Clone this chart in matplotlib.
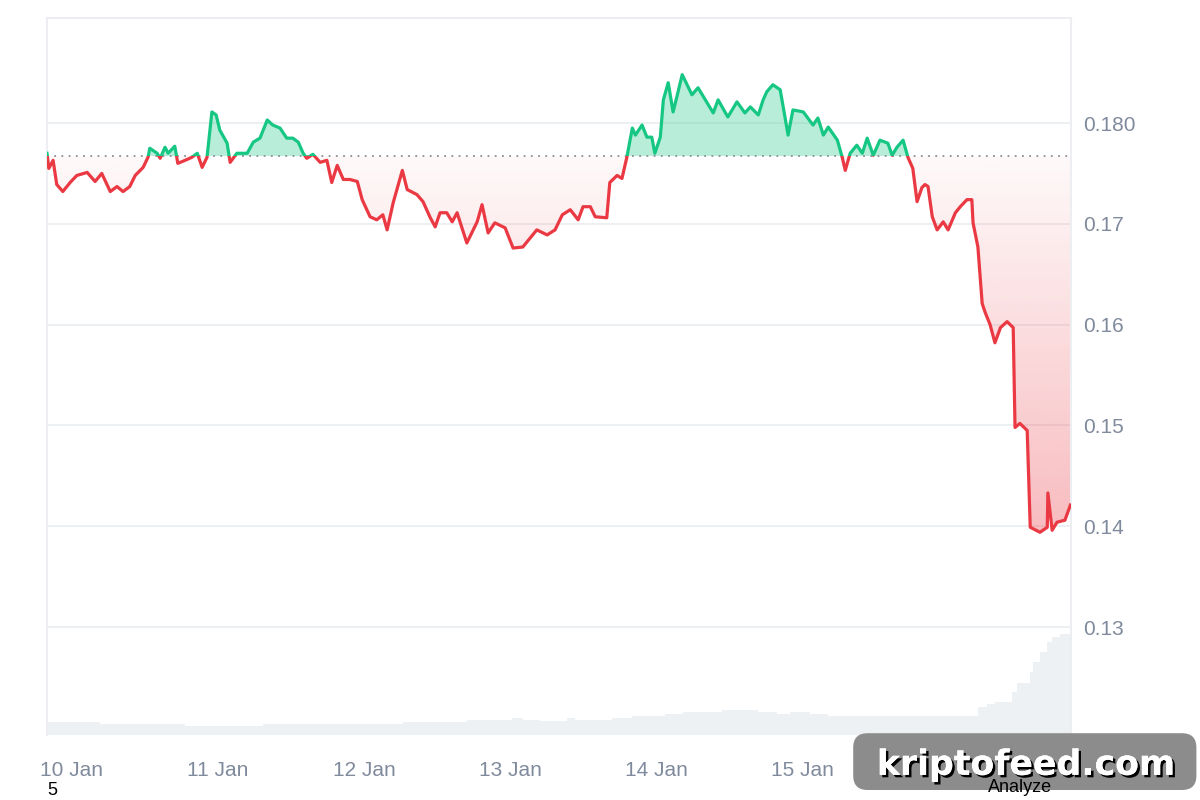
import numpy as np
import matplotlib
matplotlib.use('Agg')
import matplotlib.pyplot as plt
from matplotlib.patches import Rectangle, FancyBboxPatch
from matplotlib.path import Path
from matplotlib.colors import to_rgb
import matplotlib.patheffects as pe

# price, hours since 10 Jan 00:00
hours = [-4.1, -3.8, -3.1, -2.5, -1.5, -0.3, 0.8, 2.5, 3.8, 4.9,
         6.3, 7.4, 8.4, 9.5, 10.4, 11.7, 12.5, 12.8, 14.0, 14.5,
         15.3, 15.8, 16.9, 17.4, 18.6, 19.7, 20.6, 21.4, 22.2, 23.0,
         23.7, 24.3, 25.5, 26.0, 27.1, 28.8, 29.8, 30.9, 32.1, 33.0,
         34.2, 35.3, 36.3, 37.2, 38.0, 38.6, 39.6, 40.8, 41.9, 42.7,
         43.6, 44.6, 45.7, 46.9, 47.7, 49.0, 50.1, 51.1, 51.8, 52.8,
         54.3, 55.1, 56.7, 57.7, 58.9, 59.7, 60.5, 61.6, 62.5, 63.3,
         64.9, 66.6, 67.4, 68.4, 69.5, 71.2, 72.5, 74.1, 76.4, 78.1,
         79.4, 80.6, 81.9, 83.2, 84.0, 85.2, 86.0, 87.9, 88.4, 89.6,
         90.4, 91.2, 92.1, 92.6, 93.7, 94.5, 95.3, 95.8, 96.7, 97.2,
         98.0, 98.8, 99.5, 100.3, 101.9, 102.9, 104.4, 105.4, 106.2, 107.8,
         109.3, 110.6, 111.5, 112.8, 113.6, 114.2, 115.2, 116.4, 116.9, 117.7,
         118.5, 120.2, 121.8, 122.6, 123.5, 124.3, 125.8, 126.6, 127.1, 127.9,
         129.0, 129.9, 130.7, 131.7, 132.8, 134.1, 134.8, 135.6, 136.6, 137.4,
         138.2, 138.9, 139.7, 140.2, 140.7, 141.4, 142.2, 143.2, 144.0, 145.2,
         146.0, 147.1, 147.9, 148.1, 148.9, 149.6, 150.1, 150.9, 151.7, 152.6,
         153.7, 154.7, 155.0, 155.8, 157.0, 157.5, 159.1, 160.3, 160.4, 161.1,
         161.9, 163.2, 164.1]
prices = [0.1770, 0.1755, 0.1763, 0.1739, 0.1732, 0.1741, 0.1748, 0.1751, 0.1742, 0.1750,
          0.1732, 0.1737, 0.1732, 0.1737, 0.1748, 0.1756, 0.1766, 0.1775, 0.1770, 0.1765,
          0.1776, 0.1770, 0.1777, 0.1760, 0.1763, 0.1766, 0.1770, 0.1756, 0.1766, 0.1811,
          0.1808, 0.1793, 0.1780, 0.1761, 0.1770, 0.1770, 0.1781, 0.1785, 0.1803, 0.1798,
          0.1795, 0.1785, 0.1785, 0.1781, 0.1770, 0.1765, 0.1769, 0.1761, 0.1763, 0.1741,
          0.1758, 0.1744, 0.1744, 0.1742, 0.1724, 0.1707, 0.1704, 0.1709, 0.1694, 0.1721,
          0.1753, 0.1734, 0.1729, 0.1722, 0.1706, 0.1697, 0.1711, 0.1711, 0.1702, 0.1711,
          0.1681, 0.1702, 0.1719, 0.1691, 0.1701, 0.1696, 0.1676, 0.1677, 0.1694, 0.1689,
          0.1694, 0.1709, 0.1714, 0.1704, 0.1717, 0.1717, 0.1707, 0.1706, 0.1741, 0.1748,
          0.1745, 0.1766, 0.1795, 0.1788, 0.1798, 0.1786, 0.1786, 0.1770, 0.1786, 0.1823,
          0.1840, 0.1811, 0.1828, 0.1848, 0.1828, 0.1835, 0.1820, 0.1810, 0.1823, 0.1806,
          0.1821, 0.1810, 0.1816, 0.1808, 0.1823, 0.1831, 0.1838, 0.1833, 0.1816, 0.1788,
          0.1813, 0.1811, 0.1798, 0.1805, 0.1788, 0.1796, 0.1783, 0.1766, 0.1753, 0.1770,
          0.1778, 0.1770, 0.1785, 0.1768, 0.1783, 0.1780, 0.1768, 0.1776, 0.1783, 0.1766,
          0.1755, 0.1722, 0.1736, 0.1739, 0.1737, 0.1707, 0.1694, 0.1702, 0.1694, 0.1711,
          0.1717, 0.1724, 0.1724, 0.1701, 0.1677, 0.1621, 0.1612, 0.1600, 0.1582, 0.1597,
          0.1603, 0.1597, 0.1498, 0.1502, 0.1495, 0.1399, 0.1394, 0.1399, 0.1433, 0.1396,
          0.1404, 0.1406, 0.1421]
base_price = 0.17673

# volume steps (arbitrary units)
vol_hours = [-4.1, 4.6, 18.6, 31.4, 54.4, 64.9, 72.3, 74.1, 76.9, 81.4, 82.7, 88.8,
             92.1, 97.5, 100.4, 106.8, 112.8, 115.9, 118.0, 121.3, 124.3, 148.9,
             150.4, 151.7, 154.5, 155.3, 157.5, 158.0, 159.1, 160.3, 161.1, 162.4]
volumes = [13, 11, 9.3, 11, 13, 15, 17, 15, 14, 17, 15, 17,
           19, 21, 23, 25, 23, 21, 23, 21, 19, 28,
           31, 33, 43, 52, 63, 73, 83, 93, 98, 101]

day_labels = ['10 Jan', '11 Jan', '12 Jan', '13 Jan', '14 Jan', '15 Jan']
y_ticks = [0.13, 0.14, 0.15, 0.16, 0.17, 0.18]
y_labels = ['0.13', '0.14', '0.15', '0.16', '0.17', '0.180']

GREEN = '#16c784'
RED = '#ea3943'
GREY = '#808a9d'
x0, x1 = -4.1, 164.2
y0, y1 = 0.11929, 0.19042

plt.rcParams['font.family'] = ['Liberation Sans', 'DejaVu Sans']

fig = plt.figure(figsize=(12, 8), dpi=100)
ax_v = fig.add_axes([0.03917, 0.08125, 0.85333, 0.89625])
ax = ax_v.twinx()
ax.set_zorder(ax_v.get_zorder() + 1)
ax.patch.set_visible(False)
ax.set_axisbelow(True)

# volume
vh = np.array(vol_hours + [x1])
vv = np.array(volumes + [volumes[-1]])
ax_v.fill_between(vh, vv, 0, step='post', color='#eef1f4', lw=0)
ax_v.set_ylim(0, 717)
ax_v.set_xlim(x0, x1)
ax_v.axis('off')

t = np.array(hours)
p = np.array(prices)

# green fill above baseline
ax.fill_between(t, p, base_price, where=p >= base_price, interpolate=True,
                color=GREEN, alpha=0.3, lw=0, zorder=1)

# red gradient fill below baseline
poly = ax.fill_between(t, p, base_price, where=p <= base_price, interpolate=True,
                       facecolor='none', edgecolor='none')
clip = Path.make_compound_path(*poly.get_paths())
n = 256
rgba = np.zeros((n, 1, 4))
rgba[:, 0, :3] = to_rgb(RED)
rgba[:, 0, 3] = np.linspace(0.34, 0.03, n)
im = ax.imshow(rgba, extent=[x0, x1, p.min(), base_price], origin='lower',
               aspect='auto', interpolation='bilinear', zorder=1)
im.set_clip_path(clip, ax.transData)

# price line, coloured by side of baseline
lg, = ax.plot(t, p, color=GREEN, lw=2.3, zorder=3, solid_joinstyle='round')
lr, = ax.plot(t, p, color=RED, lw=2.3, zorder=3, solid_joinstyle='round')
lg.set_clip_path(Rectangle((x0, base_price), x1 - x0, 1, transform=ax.transData))
lr.set_clip_path(Rectangle((x0, 0), x1 - x0, base_price, transform=ax.transData))

ax.axhline(base_price, color='#8a8f99', lw=1.3, ls=(0, (1, 3)), zorder=2)

ax.set_xlim(x0, x1)
ax.set_ylim(y0, y1)
ax.set_yticks(y_ticks)
ax.set_yticklabels(y_labels)
ax.xaxis.set_visible(True)
ax.set_xticks(np.arange(len(day_labels)) * 24)
ax.set_xticklabels(day_labels)
ax.grid(axis='y', color='#eceff2', lw=1.3)
ax.tick_params(axis='y', length=0, pad=9, labelsize=15, labelcolor=GREY,
               right=True, labelright=True, left=False, labelleft=False)
for s in ('left', 'top', 'right'):
    ax.spines[s].set_color('#eceef1')
    ax.spines[s].set_linewidth(1.5)
ax.spines['bottom'].set_visible(False)
ax.tick_params(axis='x', length=0, pad=19, labelsize=15, labelcolor=GREY,
               bottom=True, labelbottom=True)

# overlay bits at the bottom
fig.text(0.044, 0.001, '5', fontsize=13, color='black', ha='center', va='bottom')
box = FancyBboxPatch((0.711, 0.0125), 0.286, 0.071, boxstyle='round,pad=0,rounding_size=0.012',
                     transform=fig.transFigure, facecolor='#8c8c8c', edgecolor='none',
                     mutation_aspect=1.5, zorder=5)
fig.patches.append(box)
wm = fig.text(0.855, 0.044, 'kriptofeed.com', fontsize=25, fontweight='bold',
              family='DejaVu Sans', color='white', ha='center', va='center', zorder=6)
wm.set_path_effects([pe.withSimplePatchShadow(offset=(1.8, -1.8), shadow_rgbFace='black', alpha=1),
                     pe.Normal()])
fig.text(0.85, 0.0155, 'Analyze', fontsize=13, color='black', ha='center', va='center', zorder=7)

fig.savefig('out.png', dpi=100)
